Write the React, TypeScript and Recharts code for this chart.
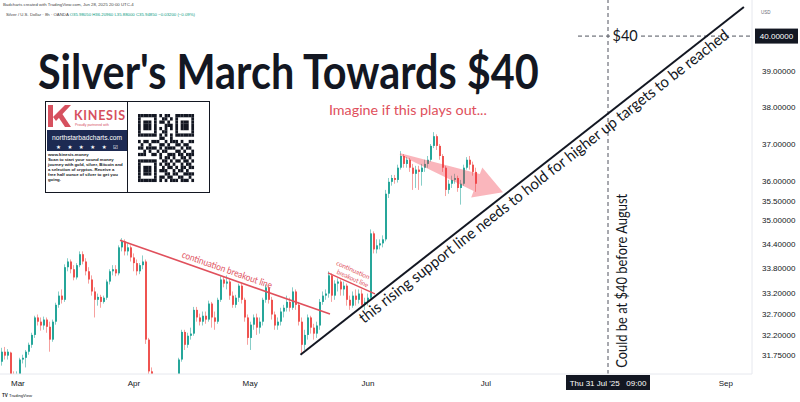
import React from "react";
import { ComposedChart, Bar, XAxis, YAxis, ReferenceLine, ReferenceDot } from "recharts";

type Ohlc = [number, number, number, number];

// XAG/USD 8h candles: open, high, low, close
const marchCandles: Ohlc[] = [
    [31.59, 31.91, 31.5, 31.82], [31.82, 31.93, 31.64, 31.73], [31.73, 31.88, 31.64, 31.82],
    [31.8, 31.82, 31.19, 31.28], [31.28, 31.37, 31.01, 31.14], [31.14, 31.37, 31.05, 31.28],
    [31.28, 31.68, 31.24, 31.64], [31.64, 31.75, 31.55, 31.68], [31.68, 31.86, 31.46, 31.82],
    [31.82, 32.03, 31.75, 31.98], [31.98, 32.26, 31.91, 32.21], [32.21, 32.66, 32.14, 32.62],
    [32.62, 32.69, 32.43, 32.52], [32.52, 32.62, 32.31, 32.43], [32.43, 32.64, 32.33, 32.57],
    [32.57, 32.62, 32.26, 32.4], [32.4, 32.52, 31.82, 32.1], [32.1, 32.57, 32.05, 32.52],
    [32.52, 32.97, 32.45, 32.92], [32.92, 33.24, 32.85, 33.14], [33.14, 33.29, 32.95, 33.04],
    [33.04, 33.9, 32.99, 33.83], [33.83, 34.05, 33.73, 33.97], [33.97, 34.02, 33.68, 33.78],
    [33.78, 33.88, 33.51, 33.58], [33.58, 33.93, 33.53, 33.88], [33.88, 34.22, 33.83, 34.15],
    [34.15, 34.22, 33.9, 33.97], [33.97, 34.05, 33.63, 33.73], [33.73, 33.83, 33.43, 33.53],
    [33.53, 33.63, 33.14, 33.24], [33.24, 33.34, 32.62, 33.04], [33.04, 33.19, 32.9, 33.11],
    [33.11, 33.16, 32.85, 32.99], [32.99, 33.14, 32.95, 33.09], [33.09, 33.53, 33.04, 33.48],
    [33.48, 33.78, 33.41, 33.73], [33.73, 33.88, 33.63, 33.78], [33.78, 33.88, 33.61, 33.68],
    [33.68, 34.37, 33.63, 34.32], [34.32, 34.55, 34.22, 34.47], [34.47, 34.52, 34.12, 34.22],
    [34.22, 34.42, 34.12, 34.32], [34.32, 34.37, 33.97, 34.07],
];

const aprilCandles: Ohlc[] = [
    [34.07, 34.17, 33.73, 33.93], [33.93, 34.02, 33.63, 33.73], [33.73, 33.93, 33.66, 33.88],
    [33.88, 34.12, 33.78, 33.97], [33.97, 34.02, 32.0, 32.1], [32.1, 32.14, 31.19, 31.37],
    [31.37, 31.46, 30.74, 30.85], [30.85, 30.95, 29.6, 29.8], [29.8, 30.2, 29.3, 29.6],
    [29.6, 30.0, 28.8, 29.1], [29.1, 29.5, 28.3, 29.3], [29.3, 29.9, 29.0, 29.7],
    [29.7, 30.3, 29.4, 30.2], [30.2, 30.8, 29.9, 30.6], [30.6, 31.15, 30.4, 31.05],
    [31.05, 31.68, 30.95, 31.64], [31.64, 32.33, 31.59, 32.28], [32.28, 32.33, 31.86, 31.98],
    [31.98, 32.26, 31.91, 32.19], [32.19, 32.38, 32.1, 32.24], [32.24, 32.87, 32.19, 32.8],
    [32.8, 32.87, 32.52, 32.62], [32.62, 32.71, 32.43, 32.52], [32.52, 32.76, 32.43, 32.66],
    [32.66, 32.76, 32.47, 32.57], [32.57, 33.02, 32.52, 32.95], [32.95, 32.99, 32.38, 32.62],
    [32.62, 32.76, 32.33, 32.52], [32.52, 33.09, 32.47, 33.04], [33.04, 33.61, 32.99, 33.53],
    [33.53, 33.61, 33.34, 33.43], [33.43, 33.63, 33.29, 33.48], [33.48, 33.53, 33.04, 33.14],
    [33.14, 33.24, 32.85, 32.92], [32.92, 33.16, 32.85, 33.09], [33.09, 33.43, 32.99, 33.38],
    [33.38, 33.43, 32.95, 33.04], [33.04, 33.09, 32.52, 32.62],
];

const mayCandles: Ohlc[] = [
    [32.62, 32.69, 31.98, 32.14], [32.14, 32.52, 31.86, 32.45], [32.45, 32.69, 32.33, 32.62],
    [32.62, 32.71, 32.21, 32.38], [32.38, 32.62, 32.24, 32.52], [32.52, 33.09, 32.43, 33.04],
    [33.04, 33.41, 32.97, 33.34], [33.34, 33.38, 32.95, 33.04], [33.04, 33.11, 32.57, 32.69],
    [32.69, 32.76, 32.33, 32.43], [32.43, 32.62, 32.33, 32.52], [32.52, 32.85, 32.43, 32.76],
    [32.76, 32.92, 32.62, 32.85], [32.85, 33.14, 32.76, 32.99], [32.99, 33.09, 32.76, 32.85],
    [32.85, 33.34, 32.8, 33.24], [33.24, 33.29, 32.8, 32.92], [32.92, 32.99, 32.43, 32.52],
    [32.52, 32.62, 31.75, 31.98], [31.98, 32.33, 31.86, 32.21], [32.21, 32.69, 32.1, 32.62],
    [32.62, 32.66, 32.24, 32.38], [32.38, 32.47, 32.1, 32.24], [32.24, 32.52, 32.14, 32.43],
    [32.43, 33.06, 32.33, 32.99], [32.99, 33.24, 32.92, 33.14], [33.14, 33.29, 33.04, 33.19],
    [33.19, 33.73, 33.09, 33.63], [33.63, 33.68, 32.99, 33.14], [33.14, 33.51, 33.04, 33.43],
    [33.43, 33.56, 33.24, 33.48], [33.48, 33.53, 33.14, 33.29], [33.29, 33.48, 33.14, 33.38],
    [33.38, 33.43, 32.9, 33.04], [33.04, 33.14, 32.8, 32.9], [32.9, 33.24, 32.85, 33.14],
    [33.14, 33.29, 32.9, 33.04], [33.04, 33.29, 32.95, 33.19], [33.19, 33.29, 32.85, 32.92],
];

const juneCandles: Ohlc[] = [
    [32.92, 33.09, 32.8, 32.99], [32.99, 33.19, 32.9, 33.09], [33.09, 34.77, 33.04, 34.67],
    [34.67, 34.72, 34.17, 34.27], [34.27, 34.52, 34.17, 34.37], [34.37, 34.52, 34.27, 34.42],
    [34.42, 34.62, 34.32, 34.52], [34.52, 35.78, 34.47, 35.68], [35.68, 36.09, 35.57, 35.99],
    [35.99, 36.17, 35.89, 36.09], [36.09, 36.17, 35.94, 36.04], [36.04, 36.44, 35.97, 36.36],
    [36.36, 36.8, 36.31, 36.67], [36.67, 36.72, 36.36, 36.46], [36.46, 36.64, 36.36, 36.57],
    [36.57, 36.62, 36.25, 36.36], [36.36, 36.46, 35.78, 36.2], [36.2, 36.41, 35.83, 36.31],
    [36.31, 36.41, 35.78, 36.25], [36.25, 36.46, 35.89, 36.36], [36.36, 36.57, 36.25, 36.46],
    [36.46, 36.67, 36.36, 36.57], [36.57, 36.99, 36.52, 36.94], [36.94, 37.31, 36.88, 37.2],
    [37.2, 37.25, 36.83, 36.94], [36.94, 36.99, 36.57, 36.67], [36.67, 36.72, 36.25, 36.36],
    [36.36, 36.41, 35.62, 35.78], [35.78, 36.04, 35.68, 35.94], [35.94, 36.15, 35.83, 36.04],
    [36.04, 36.2, 35.94, 36.09], [36.09, 36.15, 35.73, 35.83], [35.83, 36.04, 35.4, 35.94],
    [35.94, 36.44, 35.89, 36.36], [36.36, 36.64, 36.31, 36.57], [36.57, 36.67, 36.31, 36.44],
    [36.44, 36.52, 36.15, 36.25], [36.25, 36.36, 35.73, 35.94],
];

const priceTicks = [31.75, 32.2, 32.7, 33.2, 33.8, 34.4, 35, 35.5, 36, 37, 38, 39, 40];
const monthNames = ["Mar", "Apr", "May", "Jun", "Jul", "Sep"];
const monthStarts = [5.3, 44, 82.7, 122, 161.3, 241.3];
const crosshairBar = 202;
const crosshairLabel = "Thu 31 Jul '25   09:00";
const target = 40;
const titleText = "Silver's March Towards $40";

const candles = [...marchCandles, ...aprilCandles, ...mayCandles, ...juneCandles];
const chartData = candles.map(([open, high, low, close], i) => ({
    i, open, high, low, close, range: [low, high],
}));

const UP = "#26a69a";
const DOWN = "#ef5350";
const INK = "#131722";
const RED = "#e0505c";
const FONT = "'Liberation Sans', Arial, sans-serif";

const measure = (text: string, font: string) => {
    const ctx = document.createElement("canvas").getContext("2d");
    if (!ctx) return 0;
    ctx.font = font;
    return ctx.measureText(text).width;
};

// body + wick, open/close placed inside the high-low bar in log space
const Candle = (props: any) => {
    const { x, y, width, height, payload } = props;
    const { open, close, high, low } = payload;
    const color = close >= open ? UP : DOWN;
    const span = Math.log(high) - Math.log(low);
    const toY = (v: number) => y + ((Math.log(high) - Math.log(v)) / span) * height;
    const cx = Math.round(x + width / 2);
    const top = toY(Math.max(open, close));
    const bottom = toY(Math.min(open, close));
    return (
        <g>
            <line x1={cx - 0.5} x2={cx - 0.5} y1={y} y2={y + height} stroke={color} strokeOpacity={0.55} />
            <rect x={cx - 1} y={top} width={2} height={Math.max(1, bottom - top)} fill={color} />
        </g>
    );
};

type Note = { text: string; at: number; dy: number; size: number; length: number };

const NoteLine = (props: any) => {
    const { x1, y1, x2, y2, color, width, notes } = props;
    const deg = (Math.atan2(y2 - y1, x2 - x1) * 180) / Math.PI;
    return (
        <g>
            <line x1={x1} y1={y1} x2={x2} y2={y2} stroke={color} strokeWidth={width} />
            {(notes as Note[]).map((n) => (
                <text
                    key={n.text}
                    transform={`translate(${x1 + (x2 - x1) * n.at},${y1 + (y2 - y1) * n.at}) rotate(${deg})`}
                    y={n.dy}
                    textAnchor="middle"
                    fontSize={n.size}
                    fill={color}
                    fontFamily="Lato, sans-serif"
                    textLength={n.length}
                    lengthAdjust="spacingAndGlyphs"
                >
                    {n.text}
                </text>
            ))}
        </g>
    );
};

const FatArrow = (props: any) => {
    const { x1, y1, x2, y2 } = props;
    const len = Math.hypot(x2 - x1, y2 - y1);
    const deg = (Math.atan2(y2 - y1, x2 - x1) * 180) / Math.PI;
    const b = len - 28;
    const pts = `0,-1 ${b},-9 ${b},-16 ${len},0 ${b},16 ${b},9 0,1`;
    return (
        <polygon
            transform={`translate(${x1},${y1}) rotate(${deg})`}
            points={pts}
            fill="#f23645"
            fillOpacity={0.36}
        />
    );
};

const PriceTick = (props: any) => {
    const { x, y, payload } = props;
    const label = Number(payload.value).toFixed(5);
    if (payload.value === target) {
        return (
            <g>
                <rect x={x + 3} y={y - 7.5} width={43} height={15} fill={INK} />
                <text x={x + 24.5} y={y + 3} textAnchor="middle" fill="#fff" fontSize={8} fontFamily={FONT}>
                    {label}
                </text>
            </g>
        );
    }
    return (
        <text x={x + 10} y={y + 3} fill={INK} fontSize={8} fontFamily={FONT}>
            {label}
        </text>
    );
};

const TimeTick = (props: any) => {
    const { x, y, payload } = props;
    if (payload.value === crosshairBar) {
        return (
            <g>
                <rect x={x - 42} y={y + 1} width={84} height={15} fill={INK} />
                <text x={x} y={y + 11.5} textAnchor="middle" fill="#fff" fontSize={8} fontFamily={FONT} xmlSpace="preserve">
                    {crosshairLabel}
                </text>
            </g>
        );
    }
    const k = monthStarts.indexOf(payload.value);
    return (
        <text x={x} y={y + 11.5} textAnchor="middle" fill={INK} fontSize={8} fontFamily={FONT}>
            {monthNames[k]}
        </text>
    );
};

const qrRows = [
    "111111101011001111111", "100000100110101000001", "101110101101001011101",
    "101110100011101011101", "101110101010101011101", "100000100110001000001",
    "111111101010101111111", "000000001100100000000", "101101110010111010011",
    "010010001101001101100", "110111101011110010110", "001010010110001101001",
    "111001101001110110111", "000000001011010011010", "111111100110101101101",
    "100000101011010010110", "101110100101101011011", "101110101110010110100",
    "101110100011011001111", "100000101101100110010", "111111101010111011101",
];

const cardLines = [
    "www.kinesis.money",
    "Scan to start your sound money",
    "journey with gold, silver, Bitcoin and",
    "a selection of cryptos. Receive a",
    "free half ounce of silver to get you",
    "going.",
];

const Card = () => {
    const qx = 138, qy = 114, qw = 56 / 21, qh = 68 / 21;
    return (
        <g>
            <rect x={45.5} y={101.5} width={164} height={91} fill="#fff" stroke={INK} />
            <line x1={127.5} y1={101.5} x2={127.5} y2={192.5} stroke={INK} />
            <polygon points="48,105 53,105 53,127 48,127" fill="#d6515f" />
            <polygon points="53,117 65,105 71,105 56,121" fill="#d6515f" />
            <polygon points="57,115 61,112 71,127 65,127" fill="#d6515f" />
            <text x={74} y={120} fontSize={12.5} fontWeight={700} fill="#d6515f" fontFamily="Lato, sans-serif"
                  textLength={51} lengthAdjust="spacing">KINESIS</text>
            <text x={92} y={125.5} fontSize={3.4} fill="#d6515f" textAnchor="middle" fontFamily={FONT}>
                Proudly partnered with
            </text>
            <rect x={47} y={130} width={80} height={21} fill="#1d2a52" />
            <text x={87} y={140} fontSize={7.2} fill="#fff" textAnchor="middle" fontFamily={FONT}
                  textLength={70} lengthAdjust="spacingAndGlyphs">northstarbadcharts.com</text>
            <text x={87} y={148.5} fontSize={5.5} fill="#fff" textAnchor="middle" fontFamily="DejaVu Sans"
                  textLength={62} lengthAdjust="spacing">★ ★ ★ ★ ★ ☑</text>
            {cardLines.map((t, k) => (
                <text key={t} x={48} y={156 + k * 5} fontSize={4.3} fontWeight={700} fill={INK} fontFamily={FONT}>
                    {t}
                </text>
            ))}
            {qrRows.map((row, r) =>
                row.split("").map((c, col) =>
                    c === "1" ? (
                        <rect key={`${r}-${col}`} x={qx + col * qw} y={qy + r * qh} width={qw + 0.05} height={qh + 0.05} fill={INK} />
                    ) : null
                )
            )}
        </g>
    );
};

export default function App() {
    const natural = measure(titleText, "700 48px Lato") || 502;
    const titleScale = 502 / natural;

    return (
        <div style={{ position: "absolute", left: 0, top: 0, width: 800, height: 402, background: "#fff", fontFamily: FONT }}>
            <ComposedChart width={800} height={402} data={chartData} margin={{ top: 0, right: 0, bottom: 0, left: 0 }}>
                <XAxis
                    dataKey="i"
                    type="number"
                    domain={[-2 / 3, 250]}
                    allowDataOverflow
                    ticks={[...monthStarts, crosshairBar]}
                    interval={0}
                    height={28}
                    tickSize={0}
                    tickMargin={0}
                    tick={<TimeTick />}
                    axisLine={{ stroke: "#e6e8ee" }}
                    tickLine={false}
                />
                <YAxis
                    orientation="right"
                    scale="log"
                    domain={[31.31, 41.06]}
                    allowDataOverflow
                    ticks={priceTicks}
                    interval={0}
                    width={48}
                    tickSize={0}
                    tickMargin={0}
                    tick={<PriceTick />}
                    axisLine={{ stroke: "#e6e8ee" }}
                    tickLine={false}
                />
                <Bar dataKey="range" barSize={2} isAnimationActive={false} shape={(p: any) => <Candle {...p} />} />

                <ReferenceLine x={crosshairBar} stroke="#50535e" strokeDasharray="4 3" ifOverflow="visible" />
                <ReferenceLine
                    segment={[{ x: 192, y: target }, { x: 250, y: target }]}
                    stroke="#50535e"
                    strokeDasharray="4 3"
                    ifOverflow="visible"
                />
                <ReferenceLine
                    segment={[{ x: 39.33, y: 34.5 }, { x: 109.33, y: 32.7 }]}
                    ifOverflow="visible"
                    shape={(p: any) => (
                        <NoteLine {...p} color={RED} width={1.6}
                                  notes={[{ text: "continuation breakout line", at: 0.498, dy: -4.3, size: 9.5, length: 95 }]} />
                    )}
                />
                <ReferenceLine
                    segment={[{ x: 108.67, y: 33.69 }, { x: 124.33, y: 33.18 }]}
                    ifOverflow="visible"
                    shape={(p: any) => (
                        <NoteLine {...p} color={RED} width={1.4}
                                  notes={[
                                      { text: "continuation", at: 0.42, dy: -10.7, size: 6.5, length: 36 },
                                      { text: "breakout line", at: 0.48, dy: -2.8, size: 6.5, length: 34 },
                                  ]} />
                    )}
                />
                <ReferenceLine
                    segment={[{ x: 99.5, y: 31.75 }, { x: 247.3, y: 40.85 }]}
                    ifOverflow="visible"
                    shape={(p: any) => (
                        <NoteLine {...p} color={INK} width={2}
                                  notes={[{
                                      text: "this rising support line needs to hold for higher up targets to be reached",
                                      at: 0.535, dy: 15, size: 15.5, length: 465,
                                  }]} />
                    )}
                />
                <ReferenceLine
                    segment={[{ x: 132.67, y: 36.72 }, { x: 167, y: 35.72 }]}
                    ifOverflow="visible"
                    shape={(p: any) => <FatArrow {...p} />}
                />
                <ReferenceDot
                    x={135.3}
                    y={37.9}
                    r={0}
                    ifOverflow="visible"
                    shape={(p: any) => (
                        <text x={p.cx} y={p.cy + 4.3} textAnchor="middle" fontSize={13} fill={RED}
                              fontFamily="Lato, sans-serif" textLength={158} lengthAdjust="spacingAndGlyphs">
                            Imagine if this plays out...
                        </text>
                    )}
                />
                <ReferenceDot
                    x={208.3}
                    y={31.45}
                    r={0}
                    ifOverflow="visible"
                    shape={(p: any) => (
                        <text transform={`translate(${p.cx},${p.cy}) rotate(-90)`} fontSize={14.5} fill={INK}
                              fontFamily="Lato, sans-serif" textLength={174} lengthAdjust="spacingAndGlyphs">
                            Could be at $40 before August
                        </text>
                    )}
                />
                <ReferenceDot
                    x={207.7}
                    y={target}
                    r={0}
                    ifOverflow="visible"
                    shape={(p: any) => (
                        <g>
                            <rect x={p.cx - 13} y={p.cy - 8} width={26} height={16} fill="#fff" />
                            <text x={p.cx} y={p.cy + 5} textAnchor="middle" fontSize={14.5} fill={INK}
                                  fontFamily="Lato, sans-serif">$40</text>
                        </g>
                    )}
                />
            </ComposedChart>

            <svg width={800} height={402} style={{ position: "absolute", left: 0, top: 0, pointerEvents: "none" }}>
                <text x={3} y={6} fontSize={4.3} fill="#444" fontFamily={FONT}>
                    Badcharts created with TradingView.com, Jun 28, 2025 20:00 UTC-4
                </text>
                <text x={6} y={15.5} fontSize={4.3} fill="#444" fontFamily={FONT}>
                    Silver / U.S. Dollar · 8h · OANDA{" "}
                    <tspan fill="#089981">O35.98050 H36.20960 L35.88000 C35.94850 −0.03200 (−0.09%)</tspan>
                </text>
                <text x={761} y={14} fontSize={4.5} fill="#6a6d78" fontFamily={FONT}>USD</text>
                <Card />
                <text x={2} y={397} fontSize={4.5} fontWeight={700} fill={INK} fontFamily={FONT}>TV</text>
                <text x={9} y={397} fontSize={4.2} fill={INK} fontFamily={FONT}>TradingView</text>
            </svg>

            <div
                style={{
                    position: "absolute",
                    left: 38,
                    top: 53,
                    fontFamily: "Lato, sans-serif",
                    fontWeight: 700,
                    fontSize: 48,
                    lineHeight: "36px",
                    whiteSpace: "nowrap",
                    color: INK,
                    transform: `scaleX(${titleScale})`,
                    transformOrigin: "0 0",
                    pointerEvents: "none",
                }}
            >
                {titleText}
            </div>
        </div>
    );
}
